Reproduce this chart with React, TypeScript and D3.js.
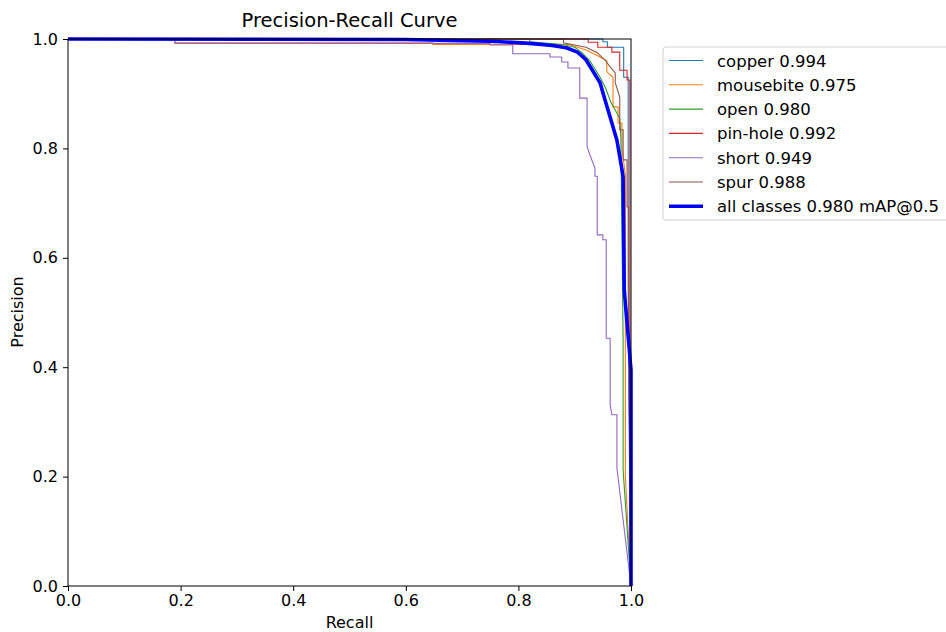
import React, { useEffect, useRef } from "react";
import * as d3 from "d3";

// class names, AP values and colours
const classNames = ["copper", "mousebite", "open", "pin-hole", "short", "spur"];
const classAP = [0.994, 0.975, 0.98, 0.992, 0.949, 0.988];
const classColors = ["#1f77b4", "#ff7f0e", "#2ca02c", "#d62728", "#9467bd", "#8c564b"];

// [recall, precision] vertices
const copper = [[0, 1], [0.95, 1], [0.95, 0.995], [0.958, 0.995], [0.958, 0.985], [0.987, 0.985],
  [0.987, 0.93], [0.995, 0.93], [0.995, 0.55], [1, 0]];
const mousebite = [[0, 1], [0.19, 1], [0.19, 0.993], [0.648, 0.993], [0.648, 0.99], [0.89, 0.99],
  [0.92, 0.98], [0.94, 0.97], [0.957, 0.96], [0.957, 0.94], [0.968, 0.93], [0.968, 0.876],
  [0.977, 0.876], [0.977, 0.846], [0.984, 0.846], [0.984, 0.8], [0.99, 0.75], [0.99, 0.2], [1, 0]];
const open = [[0, 1], [0.82, 1], [0.82, 0.995], [0.88, 0.99], [0.9, 0.985], [0.913, 0.975],
  [0.927, 0.96], [0.936, 0.945], [0.945, 0.93], [0.955, 0.91], [0.964, 0.885], [0.972, 0.87],
  [0.98, 0.855], [0.982, 0.82], [0.986, 0.45], [0.986, 0.212], [1, 0]];
const pinHole = [[0, 1], [0.924, 1], [0.924, 0.994], [0.941, 0.994], [0.941, 0.985], [0.966, 0.985],
  [0.966, 0.976], [0.98, 0.976], [0.98, 0.943], [0.993, 0.943], [0.993, 0.925], [0.998, 0.925],
  [0.998, 0.5], [1, 0]];
const short = [[0, 1], [0.19, 1], [0.19, 0.992], [0.75, 0.992], [0.75, 0.989], [0.79, 0.989],
  [0.79, 0.973], [0.856, 0.973], [0.856, 0.967], [0.877, 0.967], [0.877, 0.958], [0.888, 0.958],
  [0.888, 0.947], [0.909, 0.947], [0.909, 0.892], [0.922, 0.892], [0.922, 0.803], [0.927, 0.788],
  [0.936, 0.764], [0.936, 0.749], [0.94, 0.749], [0.94, 0.642], [0.95, 0.642], [0.95, 0.633],
  [0.956, 0.633], [0.956, 0.453], [0.963, 0.453], [0.963, 0.331], [0.966, 0.313], [0.975, 0.313],
  [0.975, 0.216], [1, 0]];
const spur = [[0, 1], [0.88, 1], [0.88, 0.993], [0.92, 0.985], [0.94, 0.975], [0.955, 0.96],
  [0.963, 0.949], [0.972, 0.938], [0.972, 0.92], [0.98, 0.894], [0.98, 0.834], [0.986, 0.834],
  [0.986, 0.779], [0.993, 0.779], [0.993, 0.693], [0.996, 0.693], [0.996, 0.35], [1, 0]];
const allClasses = [[0, 1], [0.6, 0.999], [0.75, 0.996], [0.82, 0.992], [0.86, 0.988],
  [0.885, 0.984], [0.905, 0.976], [0.92, 0.962], [0.932, 0.942], [0.945, 0.92], [0.954, 0.888],
  [0.963, 0.857], [0.975, 0.815], [0.984, 0.761], [0.986, 0.748], [0.988, 0.541], [1, 0.395], [1, 0]];
const allLabel = "all classes 0.980 mAP@0.5";

const classCurves = [copper, mousebite, open, pinHole, short, spur];
const ticks = [0, 0.2, 0.4, 0.6, 0.8, 1.0];

const FONT = "DejaVu Sans, sans-serif";

function drawChart(el: SVGSVGElement) {
  const svg = d3.select(el);
  svg.selectAll("*").remove();

  const x = d3.scaleLinear().domain([0, 1]).range([68, 631]);
  const y = d3.scaleLinear().domain([0, 1]).range([586, 39]);

  const line = d3.line<number[]>()
    .x((d) => x(d[0]))
    .y((d) => y(d[1]));

  const plot = svg.append("g");
  classCurves.forEach((c, i) => {
    plot.append("path")
      .attr("d", line(c))
      .attr("fill", "none")
      .attr("stroke", classColors[i])
      .attr("stroke-width", 1.1);
  });
  plot.append("path")
    .attr("d", line(allClasses))
    .attr("fill", "none")
    .attr("stroke", "#0000ff")
    .attr("stroke-width", 3.6)
    .attr("stroke-linejoin", "round");

  // frame
  svg.append("rect")
    .attr("x", 68).attr("y", 39)
    .attr("width", 563).attr("height", 547)
    .attr("fill", "none").attr("stroke", "#000").attr("stroke-width", 1);

  const xAxis = svg.append("g")
    .attr("transform", "translate(0,586)")
    .call(d3.axisBottom(x).tickValues(ticks).tickFormat(d3.format(".1f")).tickSize(5).tickPadding(4));
  const yAxis = svg.append("g")
    .attr("transform", "translate(68,0)")
    .call(d3.axisLeft(y).tickValues(ticks).tickFormat(d3.format(".1f")).tickSize(5).tickPadding(5));
  [xAxis, yAxis].forEach((a) => {
    a.select(".domain").remove();
    a.selectAll("text").attr("font-family", FONT).attr("font-size", 16).attr("fill", "#000");
    a.selectAll("line").attr("stroke", "#000");
  });

  svg.append("text")
    .attr("x", 349.5).attr("y", 27)
    .attr("text-anchor", "middle")
    .attr("font-family", FONT).attr("font-size", 19.5)
    .text("Precision-Recall Curve");
  svg.append("text")
    .attr("x", 349.5).attr("y", 628)
    .attr("text-anchor", "middle")
    .attr("font-family", FONT).attr("font-size", 16)
    .text("Recall");
  svg.append("text")
    .attr("transform", "translate(23,312) rotate(-90)")
    .attr("text-anchor", "middle")
    .attr("font-family", FONT).attr("font-size", 16)
    .text("Precision");

  // legend
  const legend = svg.append("g").attr("transform", "translate(663,47)");
  legend.append("rect")
    .attr("width", 300).attr("height", 173).attr("rx", 3)
    .attr("fill", "#fff").attr("stroke", "#d0d0d0");
  const items = classNames.map((n, i) => ({
    label: `${n} ${classAP[i].toFixed(3)}`, color: classColors[i], width: 1.1,
  }));
  items.push({ label: allLabel, color: "#0000ff", width: 3.6 });
  items.forEach((it, i) => {
    const cy = 13.5 + i * 24.3;
    legend.append("line")
      .attr("x1", 6).attr("x2", 40).attr("y1", cy).attr("y2", cy)
      .attr("stroke", it.color).attr("stroke-width", it.width);
    legend.append("text")
      .attr("x", 54).attr("y", cy + 6)
      .attr("font-family", FONT).attr("font-size", 16.5)
      .text(it.label);
  });
}

export default function App() {
  const ref = useRef<SVGSVGElement>(null);
  useEffect(() => {
    if (ref.current) drawChart(ref.current);
  }, []);
  return (
    <svg ref={ref} width={946} height={632}
      style={{ position: "absolute", left: 0, top: 0, background: "#fff" }} />
  );
}
